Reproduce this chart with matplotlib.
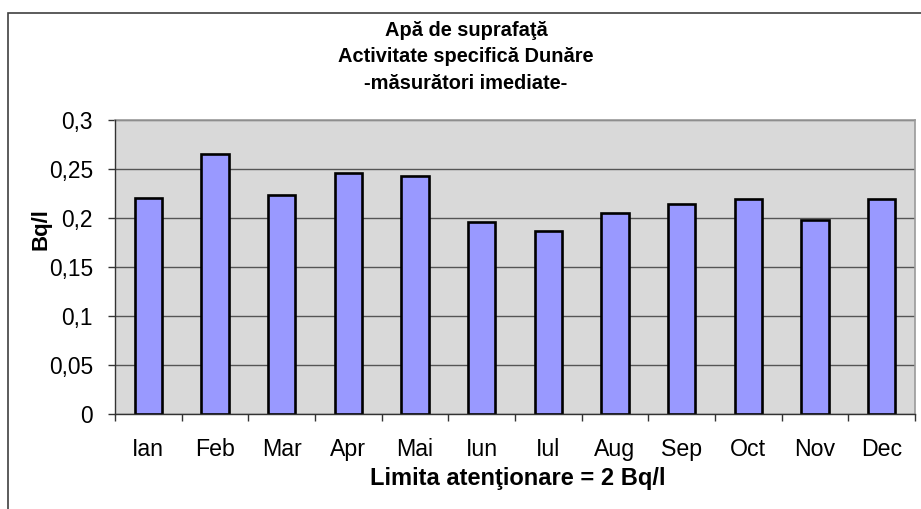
import matplotlib.pyplot as plt
from matplotlib.patches import Rectangle
from matplotlib.ticker import FixedLocator, FuncFormatter
import numpy as np

plt.rcParams['font.family'] = ['Liberation Sans', 'DejaVu Sans']

# monthly values (Bq/l)
luni = ['Ian', 'Feb', 'Mar', 'Apr', 'Mai', 'Iun', 'Iul', 'Aug', 'Sep', 'Oct', 'Nov', 'Dec']
activitate = [0.221, 0.266, 0.224, 0.246, 0.243, 0.196, 0.187, 0.205, 0.215, 0.220, 0.198, 0.220]
y_ticks = [0, 0.05, 0.1, 0.15, 0.2, 0.25, 0.3]

W, H = 921, 509
fig = plt.figure(figsize=(W / 100, H / 100), dpi=100)
fig.patch.set_facecolor('white')

# outer chart frame (cut off at right and bottom)
fig.patches.append(Rectangle((8 / W, -0.5), 2, 1 - 13 / H + 0.5, transform=fig.transFigure,
                             fill=False, ec='#404040', lw=1.2))

ax = fig.add_axes([115 / W, 1 - 414.3 / H, 800 / W, 294 / H])
ax.set_facecolor('#d9d9d9')

x = np.arange(len(luni))
ax.bar(x, activitate, width=0.41, color='#9999ff', edgecolor='black', linewidth=1.9, zorder=3)

ax.set_xlim(-0.5, len(luni) - 0.5)
ax.set_ylim(0, 0.3)
ax.set_yticks(y_ticks)
ax.yaxis.set_major_formatter(FuncFormatter(lambda v, p: ('%g' % round(v, 2)).replace('.', ',')))
ax.grid(axis='y', color='#555555', lw=1.0, zorder=1)

ax.xaxis.set_major_locator(FixedLocator(np.arange(-0.5, len(luni), 1)))
ax.xaxis.set_major_formatter(FuncFormatter(lambda v, p: ''))
ax.xaxis.set_minor_locator(FixedLocator(x))
ax.set_xticklabels(luni, minor=True)
ax.tick_params(axis='x', which='major', length=5, width=1, color='#333333', direction='out')
ax.tick_params(axis='x', which='minor', length=0, pad=17, labelsize=16.7)
ax.tick_params(axis='y', length=5, width=1, color='#333333', pad=11, labelsize=16.4)

for s in ['top', 'right']:
    ax.spines[s].set_color('#9a9a9a')
    ax.spines[s].set_linewidth(1.2)
for s in ['left', 'bottom']:
    ax.spines[s].set_color('#333333')
    ax.spines[s].set_linewidth(1.0)
    ax.spines[s].set_zorder(4)

fig.text(466 / W, 1 - 57 / H, 'Apă de suprafaţă\nActivitate specifică Dunăre\n-măsurători imediate-',
         ha='center', va='center', fontsize=14.4, fontweight='bold', linespacing=1.52)
fig.text(41 / W, 1 - 229 / H, 'Bq/l', rotation=90, ha='center', va='center',
         fontsize=16, fontweight='bold')
fig.text(518 / W, 1 - 479 / H, 'Limita atenţionare = 2 Bq/l', ha='center', va='center',
         fontsize=17, fontweight='bold')

fig.savefig('out.png', dpi=100)
